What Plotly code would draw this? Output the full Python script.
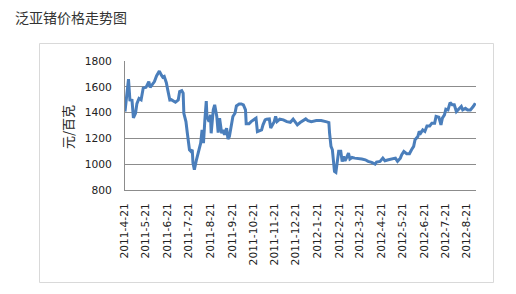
import plotly.graph_objects as go

title_text = "泛亚锗价格走势图"
y_title = "元/百克"

dates = [
    "2011-04-21", "2011-04-23", "2011-04-26", "2011-04-28", "2011-05-01", "2011-05-03",
    "2011-05-06", "2011-05-08", "2011-05-11", "2011-05-14", "2011-05-17", "2011-05-21",
    "2011-05-25", "2011-05-27", "2011-05-30", "2011-06-02", "2011-06-05", "2011-06-09",
    "2011-06-12", "2011-06-14", "2011-06-16", "2011-06-19", "2011-06-21", "2011-06-24",
    "2011-06-26", "2011-06-29", "2011-07-02", "2011-07-06", "2011-07-08", "2011-07-11",
    "2011-07-13", "2011-07-14", "2011-07-17", "2011-07-19", "2011-07-22", "2011-07-24",
    "2011-07-26", "2011-07-27", "2011-07-29", "2011-08-01", "2011-08-05", "2011-08-07",
    "2011-08-09", "2011-08-11", "2011-08-13", "2011-08-15", "2011-08-16", "2011-08-19",
    "2011-08-21", "2011-08-22", "2011-08-25", "2011-08-27", "2011-08-30", "2011-09-01",
    "2011-09-03", "2011-09-06", "2011-09-08", "2011-09-10", "2011-09-13", "2011-09-15",
    "2011-09-17", "2011-09-20", "2011-09-22", "2011-09-25", "2011-09-27", "2011-10-01",
    "2011-10-04", "2011-10-07", "2011-10-10", "2011-10-11", "2011-10-15", "2011-10-18",
    "2011-10-22", "2011-10-25", "2011-10-27", "2011-10-30", "2011-11-02", "2011-11-04",
    "2011-11-07", "2011-11-09", "2011-11-13", "2011-11-15", "2011-11-18", "2011-11-20",
    "2011-11-22", "2011-11-24", "2011-11-28", "2011-12-03", "2011-12-08", "2011-12-13",
    "2011-12-17", "2011-12-20", "2011-12-23", "2011-12-27", "2011-12-31", "2012-01-04",
    "2012-01-07", "2012-01-12", "2012-01-19", "2012-01-26", "2012-02-03", "2012-02-06",
    "2012-02-07", "2012-02-09", "2012-02-11", "2012-02-12", "2012-02-14", "2012-02-16",
    "2012-02-18", "2012-02-20", "2012-02-23", "2012-02-25", "2012-02-27", "2012-02-29",
    "2012-03-02", "2012-03-05", "2012-03-07", "2012-03-10", "2012-03-14", "2012-03-19",
    "2012-03-24", "2012-03-29", "2012-04-02", "2012-04-07", "2012-04-12", "2012-04-14",
    "2012-04-19", "2012-04-23", "2012-04-26", "2012-05-01", "2012-05-06", "2012-05-11",
    "2012-05-14", "2012-05-18", "2012-05-20", "2012-05-23", "2012-05-27", "2012-05-31",
    "2012-06-03", "2012-06-06", "2012-06-08", "2012-06-12", "2012-06-14", "2012-06-16",
    "2012-06-19", "2012-06-22", "2012-06-25", "2012-06-29", "2012-07-02", "2012-07-06",
    "2012-07-08", "2012-07-12", "2012-07-15", "2012-07-17", "2012-07-20", "2012-07-22",
    "2012-07-25", "2012-07-28", "2012-07-31", "2012-08-03", "2012-08-06", "2012-08-09",
    "2012-08-13", "2012-08-15", "2012-08-19", "2012-08-22", "2012-08-26", "2012-08-30",
    "2012-09-02",
]

prices = [
    1408, 1524, 1660, 1498, 1495, 1360, 1395, 1470, 1510, 1500, 1590, 1596,
    1640, 1596, 1614, 1640, 1684, 1722, 1690, 1674, 1680, 1632, 1576, 1498,
    1500, 1493, 1480, 1498, 1563, 1570, 1550, 1395, 1330, 1240, 1112, 1100,
    1112, 1010, 957, 1034, 1112, 1163, 1266, 1163, 1344, 1490, 1370, 1330,
    1382, 1240, 1421, 1460, 1370, 1245, 1357, 1240, 1266, 1228, 1280, 1194,
    1215, 1318, 1370, 1395, 1452, 1467, 1467, 1460, 1421, 1313, 1313, 1330,
    1349, 1357, 1253, 1258, 1266, 1305, 1344, 1349, 1351, 1280, 1318, 1330,
    1370, 1330, 1349, 1344, 1330, 1325, 1349, 1323, 1305, 1323, 1336, 1351,
    1338, 1330, 1338, 1338, 1328, 1323, 1240, 1138, 1112, 1034, 944, 937,
    1010, 1100, 1100, 1020, 1060, 1027, 1047, 1086, 1040, 1052, 1047, 1045,
    1040, 1034, 1022, 1014, 1001, 1016, 1022, 1047, 1027, 1034, 1040, 1047,
    1022, 1047, 1073, 1099, 1081, 1081, 1112, 1138, 1190, 1215, 1254, 1240,
    1266, 1254, 1297, 1297, 1318, 1318, 1370, 1364, 1305, 1357, 1382, 1426,
    1421, 1478, 1460, 1460, 1408, 1426, 1447, 1421, 1434, 1421, 1421, 1447,
    1473,
]

tick_vals = [
    "2011-04-21", "2011-05-21", "2011-06-21", "2011-07-21", "2011-08-21", "2011-09-21",
    "2011-10-21", "2011-11-21", "2011-12-21", "2012-01-21", "2012-02-21", "2012-03-21",
    "2012-04-21", "2012-05-21", "2012-06-21", "2012-07-21", "2012-08-21",
]
tick_text = [
    "2011-4-21", "2011-5-21", "2011-6-21", "2011-7-21", "2011-8-21", "2011-9-21",
    "2011-10-21", "2011-11-21", "2011-12-21", "2012-1-21", "2012-2-21", "2012-3-21",
    "2012-4-21", "2012-5-21", "2012-6-21", "2012-7-21", "2012-8-21",
]

W, H = 516, 294
L, R, T, B = 125, 476, 61, 190  # plot area in pixels

def px_x(p):
    return (p - L) / (R - L)

def px_y(p):
    return (B - p) / (B - T)

fig = go.Figure()
fig.add_trace(go.Scatter(
    x=dates, y=prices, mode="lines",
    line=dict(color="#4A7EBB", width=3),
    hoverinfo="skip", showlegend=False,
))

fig.update_layout(
    width=W, height=H,
    margin=dict(l=L, r=W - R, t=T, b=H - B),
    paper_bgcolor="white", plot_bgcolor="white",
    font=dict(family="DejaVu Sans", color="#222222"),
    showlegend=False,
    shapes=[dict(
        type="rect", xref="paper", yref="paper",
        x0=px_x(39.5), x1=px_x(493.5), y0=px_y(43.5), y1=px_y(282.5),
        line=dict(color="#D9D9D9", width=1), fillcolor="rgba(0,0,0,0)",
        layer="below",
    )],
    annotations=[
        dict(text=title_text, xref="paper", yref="paper",
             x=px_x(13), y=px_y(17), xanchor="left", yanchor="middle",
             showarrow=False,
             font=dict(family="Noto Sans CJK SC", size=14, color="#333333")),
        dict(text=y_title, xref="paper", yref="paper",
             x=px_x(67), y=px_y(127), xanchor="center", yanchor="middle",
             textangle=-90, showarrow=False,
             font=dict(family="Noto Sans CJK SC", size=13, color="#222222")),
    ],
)

fig.update_xaxes(
    type="date", range=["2011-04-21", "2012-09-03"],
    tickmode="array", tickvals=tick_vals, ticktext=tick_text,
    tickangle=-90, tickfont=dict(size=10.7, family="DejaVu Sans", color="#222222"),
    showgrid=False, showline=True, linecolor="#8C8C8C", linewidth=1,
    ticks="", ticklabelstandoff=8, zeroline=False,
)
fig.update_yaxes(
    range=[800, 1800], tickmode="array", tickvals=[800, 1000, 1200, 1400, 1600, 1800],
    tickfont=dict(size=10.7, family="DejaVu Sans", color="#222222"),
    showgrid=True, gridcolor="#8C8C8C", gridwidth=1,
    showline=True, linecolor="#8C8C8C", linewidth=1,
    ticks="", ticklabelstandoff=10, zeroline=False,
)

fig.write_html("out.html")
